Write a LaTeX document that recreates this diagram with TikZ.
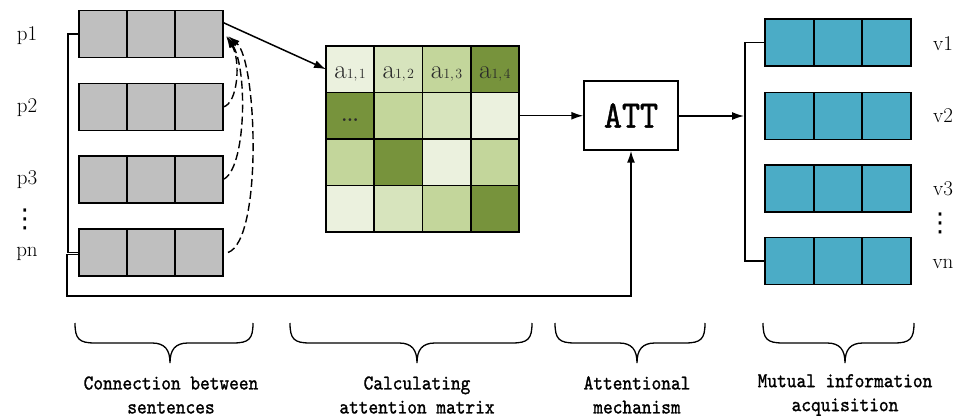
\documentclass[tikz,border=0pt]{standalone}
\usepackage{fontspec}
\usetikzlibrary{arrows.meta}
\newfontfamily\cmono{lmmono10-regular.otf}[FakeStretch=0.88,FakeBold=1.2]
\newfontfamily\djv{DejaVu Sans}
\definecolor{boxgray}{HTML}{BFBFBF}
\definecolor{vteal}{HTML}{4BACC6}
\definecolor{ga}{HTML}{EBF1DE}
\definecolor{gb}{HTML}{D7E4BD}
\definecolor{gc}{HTML}{C3D69B}
\definecolor{gd}{HTML}{77933C}
\definecolor{celltext}{HTML}{2A2A2A}
\newcommand\mybrace[3]{%
  \draw[bracestyle] (#1,323) .. controls (#1,339) and ({#1+4},343) .. ({#1+20},343)
    -- ({#2-18},343) .. controls ({#2-5},343) and (#2,350) .. (#2,363)
    .. controls (#2,350) and ({#2+5},343) .. ({#2+18},343)
    -- ({#3-20},343) .. controls ({#3-4},343) and (#3,339) .. (#3,323);}
\begin{document}
\begin{tikzpicture}[x=1pt,y=-1pt,
  rowbox/.style={draw=black,line width=1.6pt,minimum width=144pt,minimum height=47pt,inner sep=0pt,outer sep=0pt,fill=boxgray},
  vbox/.style={rowbox,minimum width=146pt,fill=vteal},
  divider/.style={line width=1.6pt},
  cell/.style={draw=black,line width=1.6pt,minimum width=48.25pt,minimum height=46.5pt,inner sep=0pt,outer sep=0pt},
  conn/.style={line width=1.5pt},
  arr/.style={conn,-{Latex[length=12pt,width=8pt]}},
  darr/.style={line width=1.4pt,dash pattern=on 8pt off 4pt,-{Latex[length=12pt,width=7pt]}},
  bracestyle/.style={line width=1.3pt},
  lab/.style={font=\fontsize{21}{22}\selectfont,inner sep=0pt},
  dotsty/.style={font=\djv\fontsize{26}{26}\selectfont,inner sep=0pt},
  captext/.style={font=\cmono\fontsize{21}{24}\selectfont,align=center,inner sep=0pt},
  celllab/.style={text=celltext,inner sep=0pt,font=\fontsize{27}{28}\selectfont}
]
\useasboundingbox (0,0) rectangle (960,419);

% left row boxes
\node[rowbox] (P1) at (151,34) {};
\node[rowbox] (P2) at (151,107) {};
\node[rowbox] (P3) at (151,179.5) {};
\node[rowbox] (Pn) at (151,252.5) {};
\foreach \b in {P1,P2,P3,Pn}{
  \draw[divider] ([xshift=48pt]\b.north west) -- ([xshift=48pt]\b.south west);
  \draw[divider] ([xshift=96pt]\b.north west) -- ([xshift=96pt]\b.south west);
}
\node[lab] (lp1) at (27,36) {p1};
\node[lab] (lp2) at (27,108) {p2};
\node[lab] (lp3) at (27,180) {p3};
\node[dotsty] (lpd) at (25,219) {⋮};
\node[lab] (lpn) at (27,254) {pn};

% right row boxes
\node[vbox] (V1) at (838,42.5) {};
\node[vbox] (V2) at (838,116) {};
\node[vbox] (V3) at (838,188.5) {};
\node[vbox] (Vn) at (838,261) {};
\foreach \b in {V1,V2,V3,Vn}{
  \draw[divider] ([xshift=49pt]\b.north west) -- ([xshift=49pt]\b.south west);
  \draw[divider] ([xshift=97pt]\b.north west) -- ([xshift=97pt]\b.south west);
}
\node[lab] (lv1) at (943,44) {v1};
\node[lab] (lv2) at (943,116) {v2};
\node[lab] (lv3) at (943,189) {v3};
\node[dotsty] (lvd) at (940,223) {⋮};
\node[lab] (lvn) at (943,264) {vn};

% matrix
\foreach \r/\cols in {1/{ga,gb,gc,gd},2/{gd,gc,gb,ga},3/{gc,gd,ga,gc},4/{ga,gb,gc,gd}}{
  \foreach \c [count=\j] in \cols {
    \node[cell,fill=\c] (m\r\j) at ({326+48.25*(\j-0.5)},{46+46.5*(\r-0.5)}) {};
  }
}
\foreach \j in {1,2,3,4}{
  \node[celllab,anchor=base] (t\j) at ([yshift=-9pt]m1\j.center) {a{\fontsize{14}{14}\selectfont 1,\kern1.5pt\j}};
}
\node[celllab,anchor=base,font=\fontsize{34}{34}\selectfont] (tdots) at ([yshift=-6pt]m21.center) {\ldots};

% ATT
\node[draw=black,line width=1.5pt,minimum width=94pt,minimum height=69pt,inner sep=0pt,fill=white,
  font=\cmono\fontsize{39}{39}\selectfont] (ATT) at (631,115.5) {ATT};

% connectors
\draw[arr] ([yshift=-12pt]P1.north east) -- (m11.west);
\draw[arr] (m24.east) -- (m24.east -| ATT.west);
\coordinate (Rin) at (744,116);
\draw[arr] (ATT.east |- Rin) -- (Rin);
\draw[conn] (V1.west) -- ++(-20,0) |- (Vn.west);
\draw[conn] (P1.west) -- ++(-11,0) |- (Pn.west);
\coordinate (BL) at (67,296);
\draw[arr] ([yshift=-2pt]Pn.west) -| (BL) -| (ATT.south);

% dashed feedback arrows
\draw[darr] (P2.east) .. controls (238,104) and (241,60) .. (226,36);
\draw[darr] (P3.east) .. controls (246,170) and (248,70) .. (227,36);
\draw[darr] ([xshift=5pt]Pn.east) .. controls (263,240) and (257,60) .. (228,36);

% braces
\mybrace{75}{170}{253}
\mybrace{290}{417}{532}
\mybrace{555}{637}{705}
\mybrace{763}{845}{914}

\node[captext] (c1) at (171,395) {Connection between\\sentences};
\node[captext] (c2) at (417,395) {Calculating\\attention matrix};
\node[captext] (c3) at (637,395) {Attentional\\mechanism};
\node[captext] (c4) at (845,395) {Mutual information\\acquisition};
\end{tikzpicture}
\end{document}
